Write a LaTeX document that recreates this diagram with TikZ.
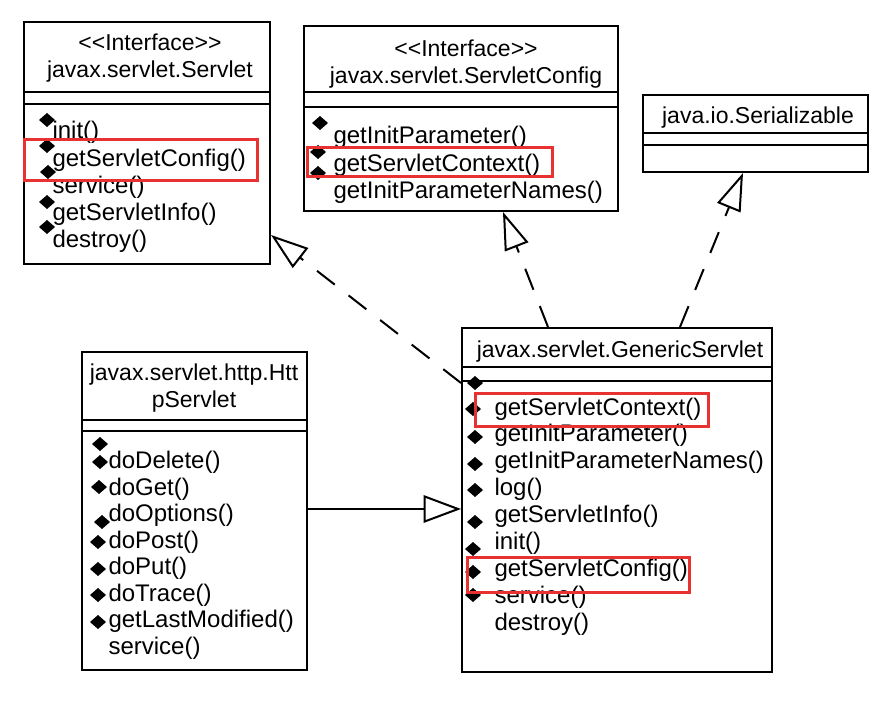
\documentclass[tikz,border=0pt]{standalone}
\usepackage{fontspec}
\setmainfont{Liberation Sans}
\usetikzlibrary{arrows.meta,fit}
\definecolor{hilite}{RGB}{232,50,50}
\newcommand{\vismark}[2]{\fill (#1,#2) +(-8,0) -- +(0,-7) -- +(8,0) -- +(0,7) -- cycle;}

\begin{document}
\begin{tikzpicture}[
    x=0.4pt, y=-0.4pt,
    classbox/.style={draw, line width=0.8pt, inner sep=0pt},
    classtitle/.style={align=center, inner sep=0pt, font=\fontsize{9.2}{10.8}\selectfont},
    oplist/.style={align=left, inner sep=0pt, anchor=base west, font=\fontsize{9.6}{10.8}\selectfont},
    realize/.style={line width=0.8pt, dash pattern=on 9pt off 7pt,
                    -{Triangle[open, length=15pt, width=10pt]}},
    extend/.style={line width=0.8pt, -{Triangle[open, length=15pt, width=11pt]}},
    highlight/.style={draw=hilite, line width=1.2pt}
]
\useasboundingbox (0,0) rectangle (893,706);

\node[classbox, fit={(24,22) (270,264)}] (servlet) {};
\draw[line width=0.8pt] (24,92) -- (270,92) (24,104) -- (270,104);
\node[classtitle] (servlet-title) at (150,58) {<{}<Interface>{}>\\javax.servlet.Servlet};
\node[oplist] (servlet-ops) at (52,247)
    {init()\\getServletConfig()\\service()\\getServletInfo()\\destroy()};
\vismark{47}{120} \vismark{47}{146} \vismark{48}{172} \vismark{47}{202} \vismark{47}{227}

\node[classbox, fit={(304,26) (618,211)}] (config) {};
\draw[line width=0.8pt] (304,92) -- (618,92) (304,107) -- (618,107);
\node[classtitle] (config-title) at (466,64) {<{}<Interface>{}>\\javax.servlet.ServletConfig};
\node[oplist, font=\fontsize{9.6}{11}\selectfont] (config-ops) at (333,199)
    {getInitParameter()\\getServletContext()\\getInitParameterNames()};
\vismark{320}{123} \vismark{318}{152} \vismark{318}{173}

\node[classbox, fit={(643,95) (868,172)}] (serial) {};
\draw[line width=0.8pt] (643,133) -- (868,133) (643,145) -- (868,145);
\node[classtitle] (serial-title) at (758,118) {java.io.Serializable};

\node[classbox, fit={(462,328) (772,672)}] (generic) {};
\draw[line width=0.8pt] (462,367) -- (772,367) (462,381) -- (772,381);
\node[classtitle] (generic-title) at (620,352) {javax.servlet.GenericServlet};
\node[oplist, font=\fontsize{9.6}{10.75}\selectfont] (generic-ops) at (494,630)
    {getServletContext()\\getInitParameter()\\getInitParameterNames()\\log()\\getServletInfo()\\
     init()\\getServletConfig()\\service()\\destroy()};
\vismark{475}{383} \vismark{473}{409} \vismark{475}{437} \vismark{475}{464} \vismark{475}{490}
\vismark{475}{522} \vismark{473}{549} \vismark{473}{572} \vismark{473}{595}

\node[classbox, fit={(82,352) (307,670)}] (http) {};
\draw[line width=0.8pt] (82,420) -- (307,420) (82,431) -- (307,431);
\node[classtitle] (http-title) at (194,388) {javax.servlet.http.Htt\\pServlet};
\node[oplist, font=\fontsize{9.6}{10.6}\selectfont] (http-ops) at (108,654)
    {doDelete()\\doGet()\\doOptions()\\doPost()\\doPut()\\doTrace()\\getLastModified()\\service()};
\vismark{100}{444} \vismark{100}{462} \vismark{99}{487} \vismark{102}{522}
\vismark{98}{542} \vismark{98}{569} \vismark{98}{595} \vismark{98}{622}

\draw[realize] (generic.west |- 0,383) -- (servlet.east |- 0,235);
\draw[realize] (generic.north -| 548,0) -- (config.south -| 503,0);
\draw[realize] (generic.north -| 680,0) -- (serial.south -| 743,0);
\draw[extend] (http.east |- 0,509) -- (generic.west |- 0,509);

\draw[highlight] (24,140) rectangle (257,181);
\draw[highlight] (307,148) rectangle (552,177);
\draw[highlight] (475,393) rectangle (708,426);
\draw[highlight] (467,557) rectangle (689,592);
\end{tikzpicture}
\end{document}
